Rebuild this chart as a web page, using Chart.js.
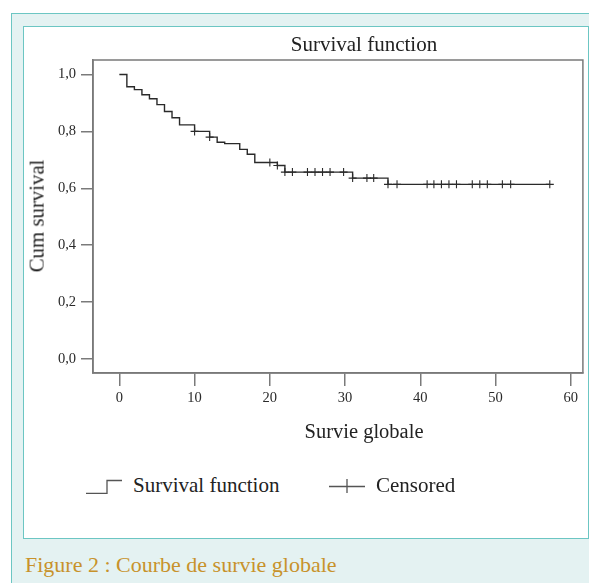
<!DOCTYPE html>
<html>
<head>
<meta charset="utf-8">
<script src="https://cdn.jsdelivr.net/npm/chart.js@4.4.1/dist/chart.umd.min.js"></script>
<style>
  html, body { margin: 0; padding: 0; width: 589px; height: 583px; overflow: hidden; background: #fff;
    font-family: "Liberation Serif", "DejaVu Serif", serif; color: #222; }
  #outer { position: absolute; left: 11px; top: 13px; width: 620px; height: 620px;
    background: #e4f2f2; border: 1.5px solid #6cc6c3; box-sizing: border-box; }
  #panel { position: absolute; left: 23px; top: 26px; width: 566px; height: 513px;
    background: #fff; border: 1px solid #6cc6c3; box-sizing: border-box; }
  #chart-wrap { position: absolute; left: 23px; top: 27px; width: 565px; height: 420px; }
  .txt { position: absolute; white-space: nowrap; line-height: 1; }
  #title { left: 364px; top: 34px; transform: translateX(-50%); font-size: 21px; }
  #xtitle { left: 364px; top: 421px; transform: translateX(-50%); font-size: 20.5px; }
  #ytitle { left: 37px; top: 216px; transform: translate(-50%, -50%) rotate(-90deg); font-size: 20.8px; }
  #legend { position: absolute; left: 86px; top: 473px; width: 480px; height: 22px; }
  .item { position: absolute; top: 0; display: flex; align-items: center; font-size: 21px;
    white-space: nowrap; }
  .item svg { margin-right: 10px; flex-shrink: 0; }
  #caption { left: 25px; top: 554px; font-size: 22px; color: #c8922b; }
</style>
</head>
<body>
<div id="outer"></div>
<div id="panel"></div>
<div id="chart-wrap"><canvas id="km"></canvas></div>
<div class="txt" id="title"></div>
<div class="txt" id="xtitle"></div>
<div class="txt" id="ytitle"></div>
<div id="legend"></div>
<div class="txt" id="caption"></div>

<script>
// Kaplan-Meier curve (months vs cumulative survival)
const EVENT_TIMES = [0, 1, 2, 3, 4, 5, 6, 7, 8, 10, 12, 13, 14, 16, 17, 18, 21, 22, 31, 35.7, 57.2];
const SURVIVAL    = [1.0, 0.957, 0.947, 0.929, 0.915, 0.894, 0.870, 0.848, 0.823, 0.800, 0.780,
                     0.762, 0.757, 0.737, 0.720, 0.691, 0.680, 0.657, 0.636, 0.614, 0.614];
const CENSOR_TIMES = [10, 12, 20, 21, 22, 23, 25, 26, 27, 28, 29.8, 31, 32.9, 33.8, 35.7, 36.9,
                      40.9, 41.8, 42.8, 43.8, 44.8, 46.9, 47.9, 48.9, 50.9, 52, 57.2];

const X_TICKS = [0, 10, 20, 30, 40, 50, 60];
const Y_TICKS = [0, 0.2, 0.4, 0.6, 0.8, 1.0];
const Y_TICK_LABELS = ['0,0', '0,2', '0,4', '0,6', '0,8', '1,0'];

const TITLE = 'Survival function';
const X_TITLE = 'Survie globale';
const Y_TITLE = 'Cum survival';
const LEGEND_LABELS = ['Survival function', 'Censored'];
const CAPTION = 'Figure 2 : Courbe de survie globale';

const FONT = '"Liberation Serif", "DejaVu Serif", serif';
const AXIS_GREY = '#7a7a7a';
const INK = '#2a2a2a';

document.getElementById('title').textContent = TITLE;
document.getElementById('xtitle').textContent = X_TITLE;
document.getElementById('ytitle').textContent = Y_TITLE;
document.getElementById('caption').textContent = CAPTION;

// legend: step glyph and cross glyph
const legend = document.getElementById('legend');
const icons = [
  '<svg width="37" height="16"><path d="M0 15.5 H21 V2.5 H36" fill="none" stroke="#555" stroke-width="1.3"/></svg>',
  '<svg width="37" height="16"><path d="M0 8.5 H36 M18 1 V15" fill="none" stroke="#555" stroke-width="1.3"/></svg>'
];
const itemLeft = [0, 243];
LEGEND_LABELS.forEach((lab, i) => {
  const d = document.createElement('div');
  d.className = 'item';
  d.style.left = itemLeft[i] + 'px';
  d.innerHTML = icons[i] + '<span>' + lab + '</span>';
  legend.appendChild(d);
});

function survivalAt(t) {
  let s = SURVIVAL[0];
  for (let i = 0; i < EVENT_TIMES.length; i++) if (EVENT_TIMES[i] <= t) s = SURVIVAL[i];
  return s;
}

const curve = EVENT_TIMES.map((t, i) => ({ x: t, y: SURVIVAL[i] }));
const censored = CENSOR_TIMES.map((t) => ({ x: t, y: survivalAt(t) }));

// plain rectangle around the plot area
const frame = {
  id: 'frame',
  afterDraw(chart) {
    const a = chart.chartArea, ctx = chart.ctx;
    ctx.save();
    ctx.strokeStyle = AXIS_GREY;
    ctx.lineWidth = 1.5;
    ctx.strokeRect(a.left, a.top, a.right - a.left, a.bottom - a.top);
    ctx.restore();
  }
};

new Chart(document.getElementById('km'), {
  type: 'line',
  data: {
    datasets: [
      {
        label: LEGEND_LABELS[0],
        data: curve,
        stepped: 'before',
        borderColor: INK,
        borderWidth: 1.4,
        pointRadius: 0,
        fill: false,
      },
      {
        label: LEGEND_LABELS[1],
        type: 'scatter',
        data: censored,
        pointStyle: 'cross',
        pointRadius: 4,
        borderColor: INK,
        borderWidth: 1.1,
        showLine: false,
      }
    ]
  },
  options: {
    responsive: true,
    maintainAspectRatio: false,
    animation: false,
    devicePixelRatio: 1,
    layout: { padding: { left: 0, right: 3, top: 33, bottom: 34 } },
    plugins: { legend: { display: false }, tooltip: { enabled: false }, title: { display: false } },
    scales: {
      x: {
        type: 'linear',
        min: -3.5,
        max: 61.6,
        afterBuildTicks: (s) => { s.ticks = X_TICKS.map((v) => ({ value: v })); },
        afterFit: (s) => { s.height = 40; },
        ticks: { color: INK, font: { family: FONT, size: 14.5 }, padding: 3, maxRotation: 0 },
        grid: { drawOnChartArea: false, drawTicks: true, tickLength: 13, color: AXIS_GREY, lineWidth: 1.5 },
        border: { display: true, color: AXIS_GREY, width: 1.5 },
      },
      y: {
        type: 'linear',
        min: -0.049,
        max: 1.051,
        afterBuildTicks: (s) => { s.ticks = Y_TICKS.map((v) => ({ value: v })); },
        afterFit: (s) => { s.width = 70; },
        ticks: {
          color: INK, font: { family: FONT, size: 14.5 }, padding: 5,
          callback: (v) => Y_TICK_LABELS[Y_TICKS.findIndex((t) => Math.abs(t - v) < 1e-6)]
        },
        grid: { drawOnChartArea: false, drawTicks: true, tickLength: 12, color: AXIS_GREY, lineWidth: 1.5 },
        border: { display: true, color: AXIS_GREY, width: 1.5 },
      }
    }
  },
  plugins: [frame]
});
</script>
</body>
</html>
